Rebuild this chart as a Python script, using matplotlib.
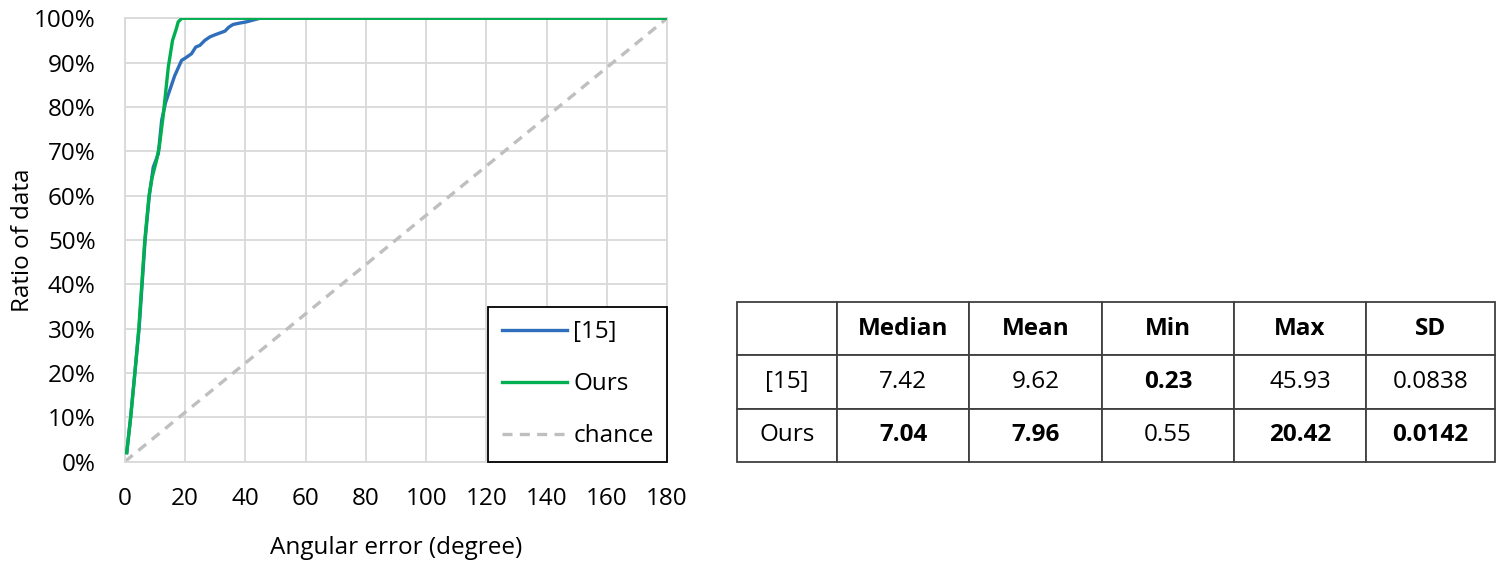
import matplotlib
matplotlib.use("Agg")
import matplotlib.pyplot as plt
from matplotlib.ticker import PercentFormatter

plt.rcParams["font.family"] = ["Open Sans", "DejaVu Sans"]

# CDF curves (x in degrees, y in %)
ref_x = [0.6, 1.9, 3.3, 4.7, 5.7, 6.7, 8.1, 9.4, 10.3, 11.1, 12.2, 13.5, 15,
         16.5, 18.8, 20, 22.1, 23.5, 24.9, 26.5, 28.2, 30, 33.2, 34.5, 35.9,
         38, 40.4, 42, 44.8, 180]
ref_y = [2, 10, 20, 30, 40, 50, 60, 66.4, 68, 69.5, 77, 81, 84, 87,
         90.5, 91, 92, 93.5, 93.9, 95, 95.8, 96.3, 97.1, 98, 98.6, 98.9,
         99.2, 99.5, 100, 100]
ours_x = [0.6, 1.9, 3.3, 4.6, 5.6, 6.6, 8.0, 9.0, 10.5, 11.4, 12.7, 14.4,
          15.8, 17.0, 17.7, 18.9, 180]
ours_y = [2, 10, 20, 30, 40, 50, 60, 64, 68, 71, 78, 89, 95, 97.5, 99.2,
          100, 100]
chance_x = [0, 180]
chance_y = [0, 100]

# table contents
col_labels = ["", "Median", "Mean", "Min", "Max", "SD"]
row_labels = ["[15]", "Ours"]
table_vals = [["7.42", "9.62", "0.23", "45.93", "0.0838"],
              ["7.04", "7.96", "0.55", "20.42", "0.0142"]]
bold_cells = [(1, 3), (2, 1), (2, 2), (2, 4), (2, 5)]

fs = 17.5
fig = plt.figure(figsize=(14.98, 5.66), dpi=100)
ax = fig.add_axes([0.0834, 0.1846, 0.3619, 0.7831])

grid_c = "#D9D9D9"
ax.plot(ref_x, ref_y, color="#2F6EBA", lw=2.4, label="[15]", zorder=3)
ax.plot(ours_x, ours_y, color="#00B050", lw=2.4, label="Ours", zorder=4)
ax.plot(chance_x, chance_y, color="#BFBFBF", lw=2.4, ls=(0, (3, 2.2)),
        label="chance", zorder=2)

ax.set_xlim(0, 180)
ax.set_ylim(0, 100)
ax.set_xticks(range(0, 181, 20))
ax.set_yticks(range(0, 101, 10))
ax.yaxis.set_major_formatter(PercentFormatter(decimals=0))
ax.grid(True, color=grid_c, lw=1.3)
ax.set_axisbelow(True)
for s in ax.spines.values():
    s.set_color(grid_c)
    s.set_linewidth(1.3)
ax.tick_params(length=0, labelsize=fs, colors="black")
ax.tick_params(axis="y", pad=21)
ax.tick_params(axis="x", pad=18)

ax.set_ylabel("Ratio of data", fontsize=fs)
ax.set_xlabel("Angular error (degree)", fontsize=fs)
ax.yaxis.set_label_coords(-0.165, 0.5)
ax.xaxis.set_label_coords(0.5, -0.168)

leg = ax.legend(loc="lower right", bbox_to_anchor=(1.0, 0.0), borderaxespad=0,
                fontsize=fs, frameon=True, fancybox=False, handlelength=2.7,
                handletextpad=0.25, labelspacing=1.15, borderpad=0.55)
leg.get_frame().set_edgecolor("black")
leg.get_frame().set_linewidth(1.3)
leg.get_frame().set_alpha(1)

# table on the right
tax = fig.add_axes([0.492, 0.1837, 0.506, 0.2827])
tax.axis("off")
cells = [col_labels] + [[r] + v for r, v in zip(row_labels, table_vals)]
widths = [100, 132, 133, 132, 132, 129]
tot = sum(widths)
tbl = tax.table(cellText=cells, cellLoc="center", bbox=[0, 0, 1, 1],
                colWidths=[w / tot for w in widths])
tbl.auto_set_font_size(False)
for (r, c), cell in tbl.get_celld().items():
    cell.set_edgecolor("#404040")
    cell.set_linewidth(1.3)
    txt = cell.get_text()
    txt.set_fontsize(fs)
    if r == 0 or (r, c) in bold_cells:
        txt.set_fontweight("bold")

fig.savefig("out.png", dpi=100)
